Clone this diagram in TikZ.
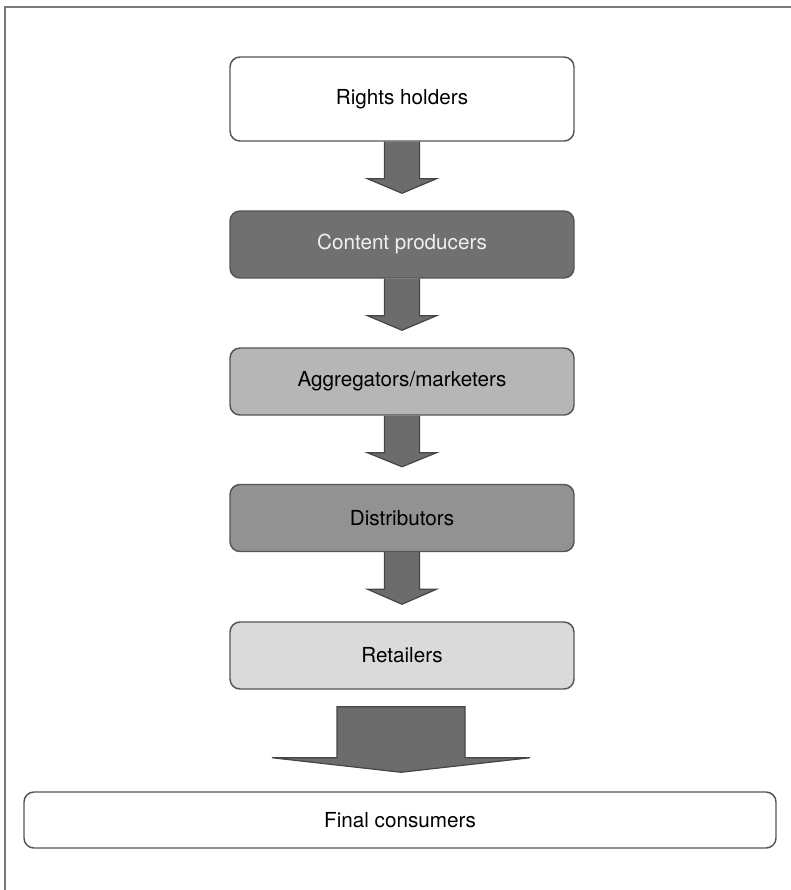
\documentclass[tikz,border=0pt]{standalone}
\usepackage{fontspec}
\setmainfont{TeX Gyre Heros}
\usetikzlibrary{calc}

\definecolor{boxline}{RGB}{85,85,85}
\definecolor{arrowfill}{RGB}{108,108,108}
\definecolor{arrowline}{RGB}{70,70,70}
\definecolor{darkfill}{RGB}{112,112,112}
\definecolor{midfill}{RGB}{146,146,146}
\definecolor{lightfill}{RGB}{182,182,182}
\definecolor{palefill}{RGB}{218,218,218}
\definecolor{framegray}{RGB}{120,120,120}

\tikzset{every picture/.style={line width=0.75pt}}
\tikzset{
  stage/.style={draw=boxline, line width=1.1pt, rounded corners=7.5pt, fill=white,
    minimum width=258pt, minimum height=50.25pt, inner sep=0pt,
    font=\fontsize{15.5}{18}\selectfont, text=black},
  flowarrow/.style={draw=arrowline, line width=0.9pt, fill=arrowfill, line join=miter}
}

% block arrow from the bottom of #1 to just above #2
\newcommand{\flowdown}[2]{%
  \draw [flowarrow] ($(#1.south)+(-17.5,0)$) -- ($(#1.south)+(-17.5,37)$) -- ($(#1.south)+(-34.5,37)$)
    -- ($(#2.north)+(0,-17)$) -- ($(#1.south)+(34.5,37)$) -- ($(#1.south)+(17.5,37)$) -- ($(#1.south)+(17.5,0)$) ;}

\begin{document}
\begin{tikzpicture}[x=0.75pt,y=0.75pt,yscale=-1,xscale=1]
	\useasboundingbox (0,0) rectangle (791,890);
	
	%Frame
	\draw [color=framegray, line width=1.5pt]  (4.5,890) -- (4.5,6.5) -- (791,6.5) ;
	
	%Stages
	\node [stage, minimum height=63pt] (rights) at (402,99) {Rights holders};
	\node [stage, fill=darkfill, text={rgb,255:red,240;green,240;blue,240}] (content) at (402,244.5) {Content producers};
	\node [stage, fill=lightfill] (aggregators) at (402,381.5) {Aggregators/marketers};
	\node [stage, fill=midfill] (distributors) at (402,518) {Distributors};
	\node [stage, fill=palefill] (retailers) at (402,655.5) {Retailers};
	\node [stage, minimum width=564pt, minimum height=42pt] (final) at (400,820) {Final consumers};
	
	%Arrows
	\flowdown{rights}{content}
	\flowdown{content}{aggregators}
	\flowdown{aggregators}{distributors}
	\flowdown{distributors}{retailers}
	
	%Big arrow
	\draw [flowarrow] ($(retailers.south)+(-65,17)$) -- ($(retailers.south)+(-65,68)$) -- ($(retailers.south)+(-130,68)$)
	  -- ($(final.north)+(1,-19)$) -- ($(retailers.south)+(128,68)$) -- ($(retailers.south)+(63,68)$) -- ($(retailers.south)+(63,17)$) -- cycle ;
	
\end{tikzpicture}
\end{document}
